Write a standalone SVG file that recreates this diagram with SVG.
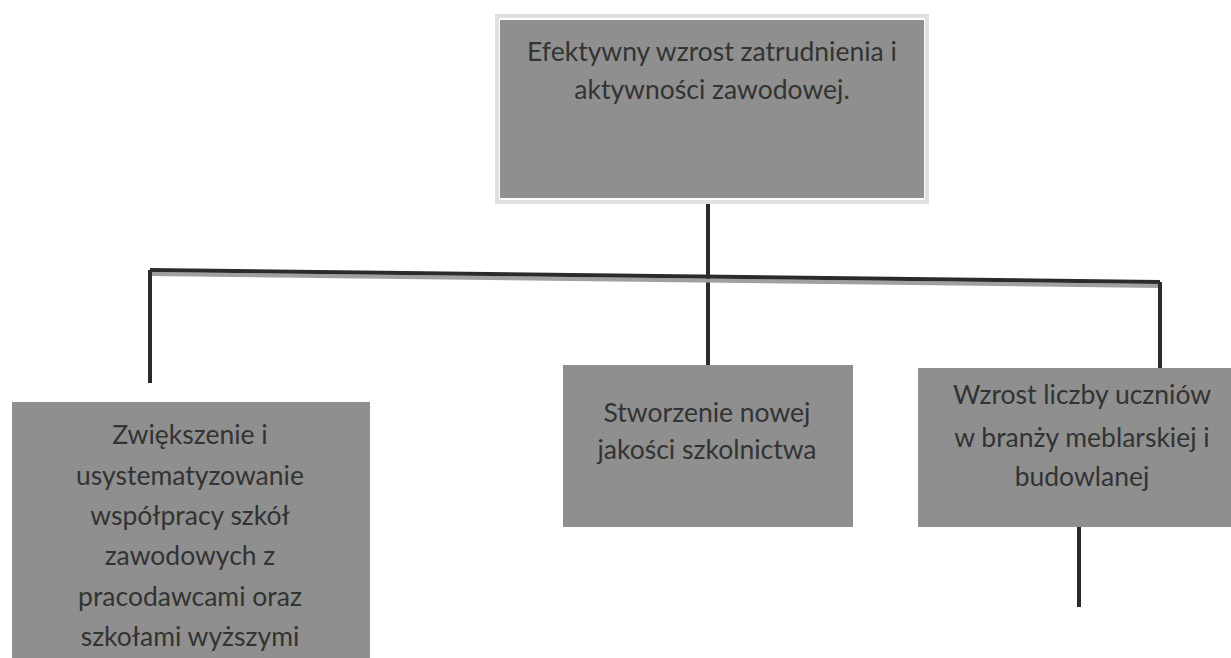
<svg xmlns="http://www.w3.org/2000/svg" width="1231" height="658" viewBox="0 0 1231 658">
<style>
.box{fill:#8f8f8f;}
.t{font-family:Lato,"Liberation Sans",sans-serif;font-size:26.5px;fill:#333;text-anchor:middle;}
.ln{stroke:#2b2b2b;stroke-width:4;fill:none;}
</style>
<rect width="1231" height="658" fill="#fff"/>
<g id="connectors">
<line class="ln" x1="708" y1="200" x2="708" y2="366"/>
<line x1="150" y1="274" x2="1160" y2="286" stroke="#a0a0a0" stroke-width="4"/>
<line class="ln" x1="150" y1="270" x2="1160" y2="282" stroke-width="5"/>
<line class="ln" x1="150" y1="270" x2="150" y2="383"/>
<line class="ln" x1="1160" y1="282" x2="1160" y2="369"/>
<line class="ln" x1="1079" y1="527" x2="1079" y2="607"/>
</g>
<g id="node-top">
<rect x="497" y="16" width="430" height="186" fill="none" stroke="#e0e0e0" stroke-width="4"/>
<rect class="box" x="500" y="20" width="424" height="178"/>
<text class="t" x="712" y="61">Efektywny wzrost zatrudnienia i</text>
<text class="t" x="712" y="99">aktywności zawodowej.</text>
</g>
<g id="node-left">
<rect class="box" x="12" y="402" width="358" height="256"/>
<text class="t" x="190" y="444">Zwiększenie i</text>
<text class="t" x="190" y="485">usystematyzowanie</text>
<text class="t" x="190" y="525">współpracy szkół</text>
<text class="t" x="190" y="565">zawodowych z</text>
<text class="t" x="190" y="606">pracodawcami oraz</text>
<text class="t" x="190" y="646">szkołami wyższymi</text>
</g>
<g id="node-center">
<rect class="box" x="563" y="365" width="290" height="162"/>
<text class="t" x="707" y="422">Stworzenie nowej</text>
<text class="t" x="707" y="459">jakości szkolnictwa</text>
</g>
<g id="node-right">
<rect class="box" x="918" y="368" width="313" height="159"/>
<text class="t" x="1082" y="404">Wzrost liczby uczniów</text>
<text class="t" x="1082" y="447">w branży meblarskiej i</text>
<text class="t" x="1082" y="486">budowlanej</text>
</g>
</svg>
